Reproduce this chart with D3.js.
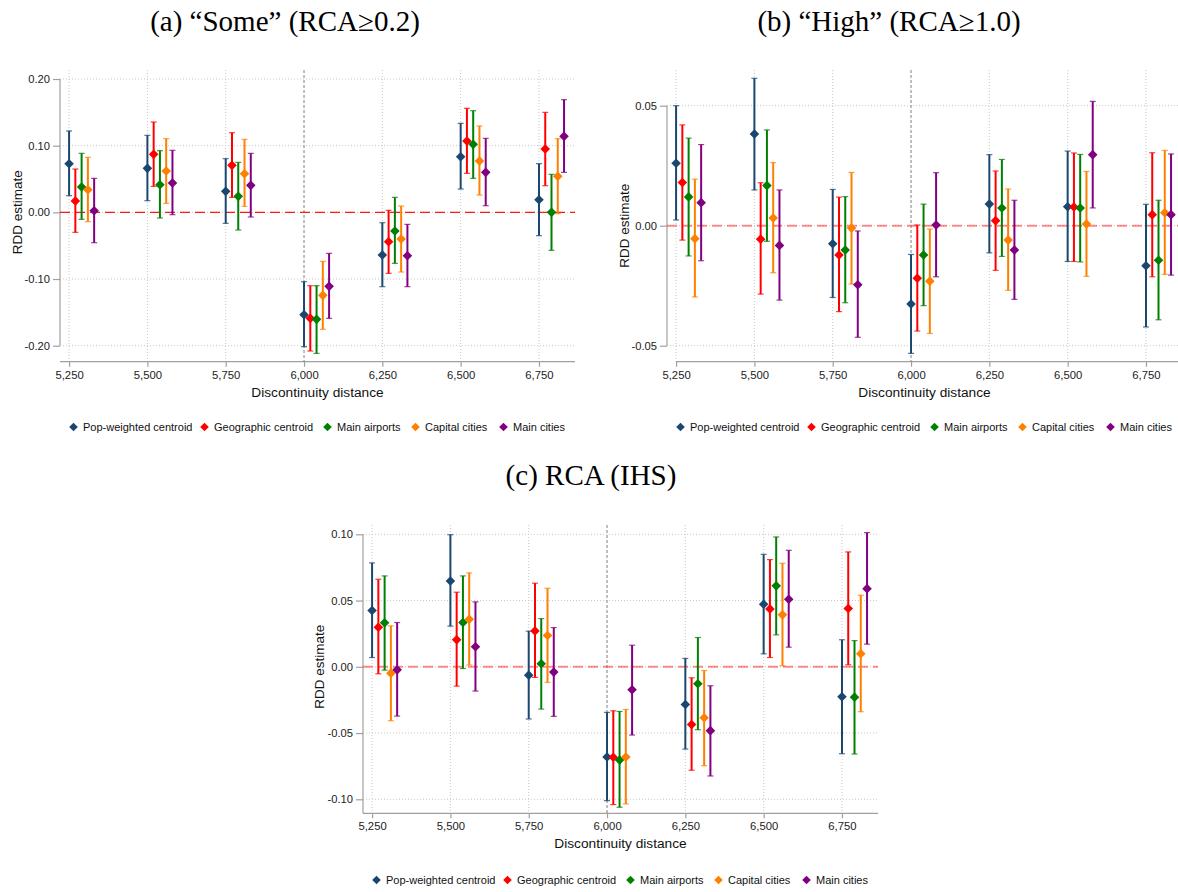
<!DOCTYPE html>
<html>
<head>
<meta charset="utf-8">
<script src="https://cdn.jsdelivr.net/npm/d3@7"></script>
<style>
  html, body { margin: 0; padding: 0; background: #fff; }
  svg { display: block; }
</style>
</head>
<body>
<svg id="chart" width="1178" height="892"></svg>
<script>
// Discontinuity distances (x categories) and the five distance definitions
const categories = [5250, 5500, 5750, 6000, 6250, 6500, 6750];
const seriesNames = ["Pop-weighted centroid", "Geographic centroid", "Main airports", "Capital cities", "Main cities"];
const seriesColors = ["#1a476f", "#ff0000", "#008000", "#ff8000", "#800080"];
const seriesShift = [0, 20, 40, 60, 80];

// Tick labels per panel
const xTicks = [5250, 5500, 5750, 6000, 6250, 6500, 6750];
const yTicksSome = [-0.2, -0.1, 0, 0.1, 0.2];
const yTicksHigh = [-0.05, 0, 0.05];
const yTicksIhs = [-0.1, -0.05, 0, 0.05, 0.1];

// (a) "Some" (RCA>=0.2): estimates and 95% CI bounds, one row per series
const someEst = [
  [0.073, 0.066, 0.0315, -0.1535, -0.064, 0.0835, 0.019],
  [0.017, 0.087, 0.0705, -0.159, -0.044, 0.107, 0.095],
  [0.038, 0.0415, 0.024, -0.1605, -0.028, 0.102, 0.000],
  [0.034, 0.062, 0.058, -0.1245, -0.040, 0.077, 0.054],
  [0.0025, 0.044, 0.0405, -0.111, -0.065, 0.060, 0.114]
];
const someLo = [
  [0.025, 0.0175, -0.0165, -0.2015, -0.1115, 0.035, -0.035],
  [-0.030, 0.039, 0.0225, -0.208, -0.0915, 0.0585, 0.040],
  [-0.0105, -0.0085, -0.0265, -0.2115, -0.0765, 0.051, -0.057],
  [-0.014, 0.0135, 0.009, -0.1755, -0.0895, 0.026, -0.002],
  [-0.0455, -0.0035, -0.007, -0.159, -0.1115, 0.010, 0.060]
];
const someHi = [
  [0.122, 0.1155, 0.0805, -0.104, -0.0155, 0.1335, 0.073],
  [0.065, 0.1355, 0.1195, -0.110, 0.003, 0.156, 0.150],
  [0.0885, 0.0925, 0.075, -0.110, 0.0225, 0.1525, 0.057],
  [0.0825, 0.1105, 0.1095, -0.0735, 0.0095, 0.1295, 0.1105],
  [0.051, 0.093, 0.0885, -0.0615, -0.018, 0.111, 0.169]
];

// (b) "High" (RCA>=1.0)
const highEst = [
  [0.026, 0.0382, -0.0075, -0.0326, 0.009, 0.0079, -0.0167],
  [0.018, -0.0056, -0.0122, -0.0219, 0.0021, 0.0078, 0.0046],
  [0.012, 0.0167, -0.0101, -0.0122, 0.0074, 0.0074, -0.0144],
  [-0.0054, 0.0032, -0.001, -0.0231, -0.006, 0.0007, 0.0054],
  [0.0096, -0.0082, -0.0246, 0.0003, -0.0101, 0.0296, 0.0046]
];
const highLo = [
  [0.0024, 0.0149, -0.0299, -0.0532, -0.0113, -0.0149, -0.0422],
  [-0.006, -0.0285, -0.0358, -0.0439, -0.0186, -0.0149, -0.0213],
  [-0.0126, -0.0065, -0.0321, -0.0333, -0.0128, -0.0151, -0.0392],
  [-0.0297, -0.0196, -0.0243, -0.0449, -0.0269, -0.0211, -0.0203],
  [-0.0146, -0.031, -0.0465, -0.0213, -0.0307, 0.0074, -0.0206]
];
const highHi = [
  [0.050, 0.0614, 0.0151, -0.012, 0.0296, 0.0311, 0.0089],
  [0.042, 0.0179, 0.0119, 0.0003, 0.0228, 0.0303, 0.0304],
  [0.0365, 0.0399, 0.0121, 0.009, 0.0276, 0.0297, 0.0106],
  [0.0194, 0.0263, 0.0222, -0.0014, 0.0153, 0.0226, 0.0314],
  [0.0338, 0.0149, -0.0022, 0.0221, 0.0106, 0.0518, 0.0299]
];

// (c) RCA (IHS)
const ihsEst = [
  [0.0425, 0.0648, -0.0063, -0.0681, -0.0284, 0.0472, -0.0226],
  [0.0299, 0.0204, 0.0271, -0.0683, -0.0435, 0.0437, 0.044],
  [0.0332, 0.0334, 0.0023, -0.0704, -0.0128, 0.0611, -0.0229],
  [-0.0048, 0.0359, 0.0236, -0.0681, -0.0384, 0.0392, 0.0098],
  [-0.0023, 0.0151, -0.004, -0.0173, -0.0482, 0.051, 0.059]
];
const ihsLo = [
  [0.007, 0.0307, -0.0394, -0.101, -0.0621, 0.0098, -0.0656],
  [-0.0053, -0.0146, -0.008, -0.104, -0.0781, 0.007, 0.0015],
  [-0.0025, -0.0013, -0.0319, -0.106, -0.0475, 0.0241, -0.0658],
  [-0.0407, 0.0013, -0.0118, -0.1035, -0.0746, 0.0008, -0.0339],
  [-0.0372, -0.0183, -0.0374, -0.0515, -0.0824, 0.0148, 0.0171]
];
const ihsHi = [
  [0.0784, 0.0997, 0.0269, -0.0344, 0.0063, 0.0849, 0.0204],
  [0.0661, 0.0563, 0.0631, -0.0332, -0.0083, 0.0809, 0.0867],
  [0.0686, 0.0686, 0.0364, -0.0337, 0.0221, 0.098, 0.0198],
  [0.0309, 0.0709, 0.0593, -0.0322, -0.0028, 0.0781, 0.054],
  [0.0334, 0.049, 0.0296, 0.0163, -0.0143, 0.0879, 0.1013]
];

const cutoff = 6000;

const svg = d3.select("#chart");
const sans = "'Liberation Sans', Arial, Helvetica, sans-serif";
const serif = "'Liberation Serif', 'Times New Roman', serif";

const diamond = r => `M0,${-r}L${r},0L0,${r}L${-r},0Z`;
const fmtY = v => (Math.abs(v) < 1e-9 ? 0 : v).toFixed(2);
const fmtX = d3.format(",");

const panels = [
  { title: "(a) “Some” (RCA≥0.2)", est: someEst, lo: someLo, hi: someHi, yTicks: yTicksSome,
    left: 60, right: 575, top: 70, axisY: 361.7, yMin: -0.2, yMax: 0.2, yBot: 345.7, yTop: 79,
    titleX: 285, titleY: 31, yTitleX: 17, legendY: 427,
    zeroColor: "#ff0000", zeroOpacity: 0.9, zeroWidth: 1.3,
    xAxisStart: 60, yAxisEnd: 345.7 },
  { title: "(b) “High” (RCA≥1.0)", est: highEst, lo: highLo, hi: highHi, yTicks: yTicksHigh,
    left: 667, right: 1182, top: 70, axisY: 361.7, yMin: -0.05, yMax: 0.05, yBot: 345.7, yTop: 105.7,
    titleX: 889, titleY: 31, yTitleX: 624, legendY: 427,
    zeroColor: "#ff3030", zeroOpacity: 0.55, zeroWidth: 1.9,
    xAxisStart: 676, yAxisEnd: 345.7 },
  { title: "(c) RCA (IHS)", est: ihsEst, lo: ihsLo, hi: ihsHi, yTicks: yTicksIhs,
    left: 363, right: 878, top: 525, axisY: 813.3, yMin: -0.1, yMax: 0.1, yBot: 799.3, yTop: 534.3,
    titleX: 591, titleY: 485, yTitleX: 319, legendY: 880,
    zeroColor: "#ff3030", zeroOpacity: 0.55, zeroWidth: 1.9,
    xAxisStart: 363, yAxisEnd: 813.3 }
];

panels.forEach(p => {
  const g = svg.append("g");
  const x = d3.scaleLinear().domain([5221, 6865]).range([p.left, p.right]);
  const y = d3.scaleLinear().domain([p.yMin, p.yMax]).range([p.yBot, p.yTop]);

  // title
  g.append("text").attr("x", p.titleX).attr("y", p.titleY)
    .attr("text-anchor", "middle").attr("font-family", serif).attr("font-size", 29)
    .attr("fill", "#000").text(p.title);

  // gridlines
  g.append("g").selectAll("line").data(p.yTicks).join("line")
    .attr("x1", p.left).attr("x2", p.right)
    .attr("y1", d => y(d)).attr("y2", d => y(d))
    .attr("stroke", "#c8c8c8").attr("stroke-width", 1).attr("stroke-dasharray", "1,2");
  g.append("g").selectAll("line").data(xTicks.filter(d => d !== cutoff)).join("line")
    .attr("x1", d => x(d)).attr("x2", d => x(d))
    .attr("y1", p.top).attr("y2", p.axisY)
    .attr("stroke", "#c8c8c8").attr("stroke-width", 1).attr("stroke-dasharray", "1,2");

  // y axis
  const yAxis = d3.axisLeft(y).tickValues(p.yTicks).tickFormat(fmtY).tickSize(7).tickPadding(3);
  const ya = g.append("g").attr("transform", `translate(${p.left},0)`).call(yAxis);
  ya.select(".domain").remove();
  ya.append("line").attr("x1", 0).attr("x2", 0).attr("y1", y(p.yMax)).attr("y2", p.yAxisEnd)
    .attr("stroke", "#a0a0a0").attr("stroke-width", 1.2);
  ya.selectAll(".tick line").attr("stroke", "#a0a0a0").attr("stroke-width", 1.2);
  ya.selectAll(".tick text").attr("font-family", sans).attr("font-size", 11.2).attr("fill", "#222");

  // x axis
  const xAxis = d3.axisBottom(x).tickValues(xTicks).tickFormat(fmtX).tickSize(5).tickPadding(4);
  const xa = g.append("g").attr("transform", `translate(0,${p.axisY})`).call(xAxis);
  xa.select(".domain").remove();
  xa.append("line").attr("x1", p.xAxisStart).attr("x2", p.right).attr("y1", 0).attr("y2", 0)
    .attr("stroke", "#a0a0a0").attr("stroke-width", 1.2);
  xa.selectAll(".tick line").attr("stroke", "#a0a0a0").attr("stroke-width", 1.2);
  xa.selectAll(".tick text").attr("font-family", sans).attr("font-size", 11.3).attr("fill", "#222");

  // axis titles
  g.append("text").attr("x", (p.left + p.right) / 2).attr("y", p.axisY + 35)
    .attr("text-anchor", "middle").attr("font-family", sans).attr("font-size", 13.7)
    .attr("fill", "#111").text("Discontinuity distance");
  g.append("text").attr("transform", `translate(${p.yTitleX},${(p.yTop + p.yBot) / 2}) rotate(-90)`)
    .attr("text-anchor", "middle").attr("dy", "0.35em").attr("font-family", sans).attr("font-size", 13.5)
    .attr("fill", "#111").text("RDD estimate");

  // cutoff line and zero line
  g.append("line").attr("x1", x(cutoff)).attr("x2", x(cutoff)).attr("y1", p.top).attr("y2", p.axisY)
    .attr("stroke", "#808080").attr("stroke-width", 1).attr("stroke-dasharray", "3,2");
  g.append("line").attr("x1", p.left).attr("x2", p.right).attr("y1", y(0)).attr("y2", y(0))
    .attr("stroke", p.zeroColor).attr("stroke-opacity", p.zeroOpacity).attr("stroke-width", p.zeroWidth)
    .attr("stroke-dasharray", "10,5");

  // error bars and point estimates
  seriesNames.forEach((name, s) => {
    const pts = categories.map((c, i) => ({
      cx: x(c + seriesShift[s]), est: p.est[s][i], lo: p.lo[s][i], hi: p.hi[s][i]
    }));
    const sg = g.append("g").attr("stroke", seriesColors[s]).attr("fill", seriesColors[s]);
    sg.selectAll("line.bar").data(pts).join("line").attr("class", "bar")
      .attr("x1", d => d.cx).attr("x2", d => d.cx)
      .attr("y1", d => y(d.lo)).attr("y2", d => y(d.hi)).attr("stroke-width", 2);
    ["lo", "hi"].forEach(k => {
      sg.selectAll("line.cap-" + k).data(pts).join("line").attr("class", "cap-" + k)
        .attr("x1", d => d.cx - 3).attr("x2", d => d.cx + 3)
        .attr("y1", d => y(d[k])).attr("y2", d => y(d[k]))
        .attr("stroke-width", 1.2).attr("stroke-opacity", 0.75);
    });
    sg.selectAll("path").data(pts).join("path")
      .attr("d", diamond(4.8)).attr("stroke", "none")
      .attr("transform", d => `translate(${d.cx},${y(d.est)})`);
  });

  // legend, centred under the plot region
  const legendOffsets = [0, 131, 254, 342, 430];
  const legendStart = (p.left + p.right) / 2 - 244;
  const lg = g.append("g");
  seriesNames.forEach((name, s) => {
    const lx = legendStart + legendOffsets[s];
    lg.append("path").attr("d", diamond(4.3)).attr("fill", seriesColors[s])
      .attr("transform", `translate(${lx},${p.legendY})`);
    lg.append("text").attr("x", lx + 9.5).attr("y", p.legendY).attr("dy", "0.35em")
      .attr("font-family", sans).attr("font-size", 11).attr("fill", "#111").text(name);
  });
});
</script>
</body>
</html>
